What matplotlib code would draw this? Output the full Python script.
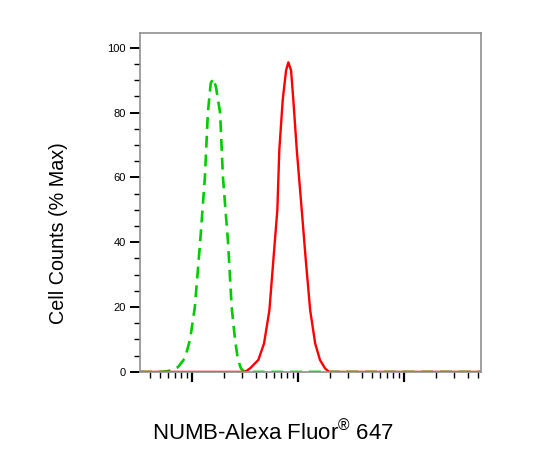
import numpy as np
import matplotlib
matplotlib.use("Agg")
import matplotlib.pyplot as plt
from matplotlib.ticker import MultipleLocator, LogLocator, NullFormatter

plt.rcParams["font.family"] = ["Liberation Sans", "DejaVu Sans"]
plt.rcParams["mathtext.fontset"] = "custom"
plt.rcParams["mathtext.rm"] = "Liberation Sans"

# Isotype control (green dashed)
green_x = [3.24, 5.0, 5.85, 6.52, 7.43, 8.65, 9.64, 10.7, 12.0, 13.3, 14.2, 15.1,
           15.9, 16.9, 18.5, 19.7, 22.0, 23.8, 25.6, 27.3, 29.2, 31.1, 34.0, 5370]
green_y = [0, 0, 0.2, 0.6, 1.5, 4.3, 10, 20, 40, 60, 80, 89,
           90.5, 88, 80, 60, 40, 20, 10, 3.7, 1.0, 0.2, 0, 0]

# NUMB stained sample (red solid)
red_x = [3.24, 31.8, 35.5, 42.5, 48.1, 54.0, 58.9, 64.2, 67.0, 72.2, 77.6, 81.5,
         86.5, 90.8, 97.9, 109, 119, 131, 146, 162, 181, 197, 5370]
red_y = [0, 0, 1.1, 3.7, 8.8, 19, 34.6, 50, 68.5, 84, 93, 95.5,
         93, 84, 68.5, 50, 34.6, 19, 8.8, 3.7, 1.1, 0, 0]

fig = plt.figure(figsize=(5.4, 4.62), dpi=100)
ax = fig.add_axes([0.259, 0.195, 0.632, 0.734])

ax.plot(green_x, green_y, color="#00cc00", lw=1.9, ls=(0, (4.5, 2.6)))
ax.plot(red_x, red_y, color="#ff0000", lw=1.7)

ax.set_xscale("log")
ax.set_xlim(3.24, 5370)
ax.set_ylim(0, 104.6)

ax.xaxis.set_major_locator(LogLocator(base=10, numticks=10))
ax.xaxis.set_minor_locator(LogLocator(base=10, subs=np.arange(2, 10), numticks=20))
ax.xaxis.set_major_formatter(NullFormatter())
ax.xaxis.set_minor_formatter(NullFormatter())
ax.tick_params(axis="x", which="major", length=7, width=1.6, color="black")
ax.tick_params(axis="x", which="minor", length=4, width=1.0, color="black")

ax.yaxis.set_major_locator(MultipleLocator(20))
ax.yaxis.set_minor_locator(MultipleLocator(5))
ax.tick_params(axis="y", which="major", length=7, width=1.4, color="black",
               labelsize=8, pad=3)
ax.tick_params(axis="y", which="minor", length=4, width=1.0, color="black")

for s in ax.spines.values():
    s.set_color("#909090")
    s.set_linewidth(1.2)

fig.text(0.108, 0.496, "Cell Counts (% Max)", rotation=90, ha="center",
         va="center", fontsize=14.2)
fig.text(0.505, 0.063, "NUMB-Alexa Fluor$^{\\mathrm{®}}$ 647", ha="center",
         va="center", fontsize=16)

fig.savefig("out.png", dpi=100)
